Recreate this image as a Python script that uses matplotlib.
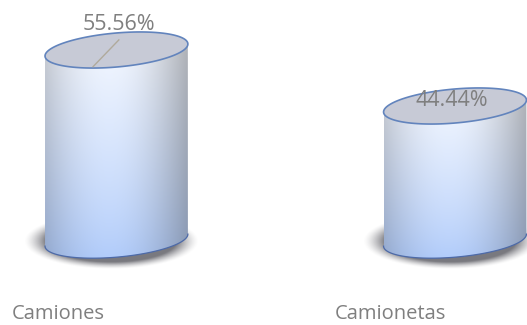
import numpy as np
import matplotlib.pyplot as plt
from matplotlib.path import Path
from matplotlib.patches import PathPatch

categories = ['Camiones', 'Camionetas']
values = [55.56, 44.44]
value_labels = ['55.56%', '44.44%']

base = 17.8      # floor of the cylinders on the value axis
half_w = 0.211   # cylinder radius in category units
ry = 3.38        # half height of the end ellipses in value units
tilt = 1.19      # right side of each ellipse sits a bit higher

fig = plt.figure(figsize=(5.27, 3.25), dpi=100)
ax = fig.add_axes([0, 0, 1, 1])
ax.set_xlim(-0.344, 1.2127)
ax.set_ylim(0.95, 65.49)
ax.axis('off')


def rim(cx, cy, t):
    return cx + half_w * np.cos(t), cy + ry * np.sin(t) + tilt * np.cos(t)


def cylinder(cx, top):
    # blurred shadow around the foot
    sx = np.linspace(cx - 0.32, cx + 0.32, 220)
    sy = np.linspace(base - 9, base + 8, 140)
    gx, gy = np.meshgrid(sx, sy)
    r = np.sqrt(((gx - cx + 0.015) / (half_w * 1.04)) ** 2 + ((gy - base + 0.3) / (ry * 1.4)) ** 2)
    shadow = np.zeros(gx.shape + (4,))
    shadow[..., :3] = (0.30, 0.30, 0.33)
    shadow[..., 3] = 0.75 * np.clip((1.18 - r) / 0.3, 0, 1) ** 1.5
    ax.imshow(shadow, extent=[sx[0], sx[-1], sy[0], sy[-1]], origin='lower',
              aspect='auto', zorder=1, interpolation='bilinear')

    # outline of the body: left side, front of the floor, right side, back of the lid
    t_low = np.linspace(np.pi, 2 * np.pi, 80)
    t_up = np.linspace(0, np.pi, 80)
    bx, by = rim(cx, base, t_low)
    tx, ty = rim(cx, top, t_up)
    verts = np.concatenate([np.column_stack([bx, by]), np.column_stack([tx, ty])])
    verts = np.vstack([verts, verts[:1]])
    body = PathPatch(Path(verts), facecolor='none', edgecolor='none')
    ax.add_patch(body)

    # shaded fill of the body
    y0, y1 = base - ry - tilt, top + ry + tilt
    u = np.linspace(-1, 1, 160)
    v = np.linspace(0, 1, 200)[:, None]   # 0 at floor, 1 at lid
    light_top = np.array([0.97, 0.98, 1.0])
    light_bot = np.array([0.68, 0.79, 0.98])
    light = light_bot + (light_top - light_bot) * v[..., None] ** 0.8
    edge = np.abs(u - (-0.1)) / 1.1
    shade = 1 - 0.26 * edge ** 2.0
    img = light * shade[None, :, None]
    # greyer towards the right flank
    grey = np.clip(u, 0, 1) ** 2 * 0.15
    img = img * (1 - grey[None, :, None]) + 0.6 * grey[None, :, None]
    img = np.clip(img, 0, 1)
    im = ax.imshow(img, extent=[cx - half_w, cx + half_w, y0, y1], origin='lower',
                   aspect='auto', zorder=2, interpolation='bilinear')
    im.set_clip_path(body)

    # thin rim along the front of the floor
    ax.plot(bx, by, color='#4d6aa8', lw=0.9, zorder=3)

    # lid
    t = np.linspace(0, 2 * np.pi, 200)
    lx, ly = rim(cx, top, t)
    ax.fill(lx, ly, facecolor='#c7cad6', edgecolor='#6284bd', lw=1.2, zorder=4)


for i, val in enumerate(values):
    cylinder(i, val)

# percentage labels
ax.plot([0.007, -0.069], [values[0] + 2.0, values[0] - 3.3], color='#b0aa9c', lw=1.0, zorder=5)
ax.text(0.007, values[0] + 5.1, value_labels[0], ha='center', va='center',
        fontsize=15.5, color='#7f7f7f', family='Open Sans', zorder=6)
ax.text(0.991, values[1] + 1.0, value_labels[1], ha='center', va='center',
        fontsize=15.5, color='#7f7f7f', family='Open Sans', zorder=6)

# category names under the cylinders
ax.text(-0.173, 3.1, categories[0], ha='center', va='center',
        fontsize=14.5, color='#7f7f7f', family='Open Sans')
ax.text(0.81, 3.1, categories[1], ha='center', va='center',
        fontsize=14.5, color='#7f7f7f', family='Open Sans')

plt.savefig('out.png', dpi=100)
